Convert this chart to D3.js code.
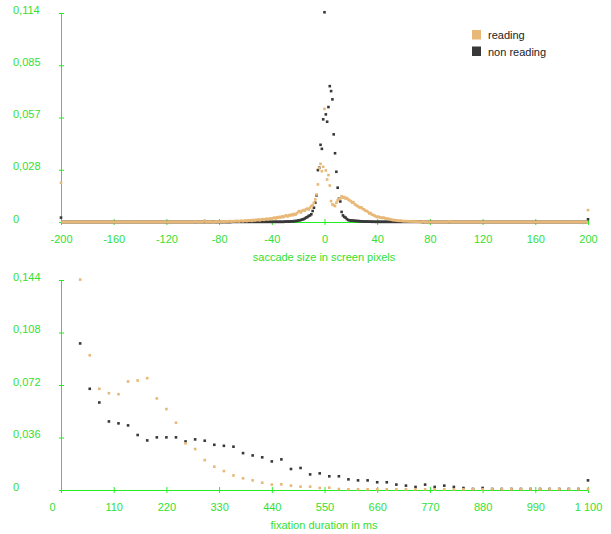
<!DOCTYPE html>
<html>
<head>
<meta charset="utf-8">
<script src="https://cdn.jsdelivr.net/npm/d3@7"></script>
<style>
  body { margin: 0; background: #fff; }
  text { font-family: "Liberation Sans", Arial, sans-serif; }
</style>
</head>
<body>
<script>
// saccade size distribution, one value per pixel from -200 to 200
let saccadeSizes = d3.range(-200, 201);
let saccadeReading = [
  0.0214,0,0,0,0,0,0,0,0,0,0,0,0,0,0,0,0,0,0,0,
  0,0,0,0,0,0,0,0,0,0,0,0,0,0,0,0,0,0,0,0,
  0,0,0,0,0,0,0,0,0,0,0,0,0,0,0,0,0,0,0,0,
  0,0,0,0,0,0,0,0,0,0,0,0,0,0,0,0,0,0,0,0,
  0,0,0,0,0,0,0,0,0,0,0,0,0,0,0,0,0,0,0,0,
  0,0,0.0003,0,0,0,0,0,0,0.0008,0,0,0,0.0002,0,0,0,0,0.0003,0,
  0.0002,0,0.0003,0.0002,0,0.0004,0.0002,0.0003,0.0005,0.0002,0.0004,0.0003,0.0005,0.0004,0.0006,0.0003,0.0005,0.0007,0.0004,0.0006,
  0.0008,0.0005,0.0009,0.0007,0.001,0.0006,0.0011,0.0008,0.0012,0.001,0.0014,0.0009,0.0013,0.0016,0.0012,0.0015,0.0018,0.0014,0.0017,0.002,
  0.0016,0.0021,0.0024,0.0019,0.0026,0.0023,0.0028,0.0025,0.0031,0.0027,0.0033,0.0036,0.003,0.0038,0.0035,0.0041,0.0037,0.0044,0.004,0.0047,
  0.0055,0.006,0.0052,0.006,0.0065,0.0062,0.007,0.0073,0.0068,0.0078,0.0087,0.0092,0.0105,0.0123,0.015,0.0205,0.0294,0.0317,0.0277,0.0301,
  0.0617,0.0281,0.0232,0.0256,0.0199,0.0114,0.0096,0.0092,0.0087,0.0105,0.0118,0.0124,0.0129,0.0141,0.0133,0.0136,0.0128,0.0131,0.0123,0.0118,
  0.0114,0.0105,0.0108,0.0096,0.0092,0.0087,0.0082,0.0078,0.008,0.0071,0.0069,0.0062,0.006,0.0055,0.0046,0.0049,0.004,0.0038,0.0035,0.003,
  0.0027,0.0029,0.0025,0.0024,0.0022,0.0024,0.002,0.0019,0.0017,0.0016,0.0015,0.0012,0.001,0.0011,0.0009,0.0008,0.0007,0.0006,0.0007,0.0005,
  0.0005,0.0004,0.0005,0.0004,0.0003,0.0004,0.0003,0.0002,0.0003,0.0002,0.0002,0,0.0002,0,0,0.0003,0,0,0,0,
  0,0,0,0,0,0,0,0,0,0,0,0,0,0,0,0.0004,0,0,0,0,
  0,0,0,0,0,0,0,0,0,0,0,0,0,0,0,0,0,0,0,0,
  0,0,0,0,0,0,0,0,0,0,0,0,0,0,0,0,0,0,0,0,
  0,0,0,0,0,0,0,0,0,0,0,0,0,0,0,0,0,0,0,0,
  0,0,0,0,0,0,0,0,0,0,0,0,0,0,0,0,0,0,0,0,
  0,0,0,0,0,0,0,0,0,0,0,0,0,0,0,0,0,0,0,0,
  0.0065
];
let saccadeNonReading = [
  0.0024,0,0,0,0,0,0,0,0,0,0,0,0,0,0,0,0,0,0,0,
  0,0,0,0,0,0,0,0,0,0,0,0,0,0,0,0,0,0,0,0,
  0,0,0,0,0,0,0,0,0,0,0,0,0,0,0,0,0,0,0,0,
  0,0,0,0,0,0,0,0,0,0,0,0,0,0,0,0,0,0,0,0,
  0,0,0,0,0,0,0,0,0,0,0,0,0,0,0,0,0,0,0,0,
  0,0,0,0,0,0,0,0,0,0,0,0,0,0,0,0,0,0,0,0,
  0,0,0,0,0,0,0,0,0,0,0.0001,0.0001,0.0001,0.0001,0.0001,0.0001,0.0001,0.0001,0.0001,0.0001,
  0.0001,0.0001,0.0001,0.0001,0.0001,0.0001,0.0001,0.0001,0.0001,0.0001,0.0001,0.0001,0.0001,0.0001,0.0001,0.0001,0.0001,0.0001,0.0001,0.0001,
  0.0001,0.0001,0.0001,0.0001,0.0001,0.0001,0.0001,0.0001,0.0001,0.0001,0.0002,0.0002,0.0003,0.0002,0.0003,0.0004,0.0003,0.0005,0.0005,0.0006,
  0.0008,0.0009,0.0011,0.0013,0.0015,0.0019,0.0024,0.0027,0.0033,0.0036,0.0042,0.006,0.0078,0.0105,0.0145,0.0283,0.0296,0.0421,0.0399,0.056,
  0.1144,0.0587,0.0547,0.0627,0.0741,0.0714,0.0669,0.0478,0.0375,0.0274,0.0187,0.0127,0.0112,0.0055,0.0036,0.0028,0.0024,0.0016,0.0011,0.0009,
  0.0008,0.0008,0.0007,0.0006,0.0006,0.0005,0.0005,0.0004,0.0004,0.0003,0.0003,0.0002,0.0003,0.0002,0.0002,0.0002,0.0001,0.0002,0.0001,0.0001,
  0.0001,0.0001,0.0001,0.0001,0.0001,0.0001,0.0001,0.0001,0.0001,0.0001,0.0001,0.0001,0.0001,0.0001,0.0001,0.0001,0.0001,0.0001,0.0001,0.0001,
  0.0001,0.0001,0.0001,0.0001,0.0001,0.0001,0.0001,0.0001,0.0001,0.0001,0.0001,0.0001,0.0001,0.0001,0,0,0,0,0,0,
  0,0,0,0,0,0,0,0,0,0,0,0,0,0,0,0,0,0,0,0,
  0,0,0,0,0,0,0,0,0,0,0,0,0,0,0,0,0,0,0,0,
  0,0,0,0,0,0,0,0,0,0,0,0,0,0,0,0,0,0,0,0,
  0,0,0,0,0,0,0,0,0,0,0,0,0,0,0,0,0,0,0,0,
  0,0,0,0,0,0,0,0,0,0,0,0,0,0,0,0,0,0,0,0,
  0,0,0,0,0,0,0,0,0,0,0,0,0,0,0,0,0,0,0,0,
  0.0015
];

// fixation duration distribution, 20 ms bins from 40 to 1100
let durations = d3.range(40, 1101, 20);
let fixationReading = [
  0.1443,0.0924,0.0694,0.0664,0.0657,0.0744,0.0751,0.0767,0.0628,0.0555,
  0.0461,0.032,0.0281,0.0205,0.016,0.013,0.01,0.008,0.0066,0.005,
  0.0037,0.0039,0.003,0.0023,0.0023,0.0014,0.0016,0.0007,0.0005,0.0005,
  0.0005,0.0005,0.0005,0.0005,0.0005,0.0005,0.0005,0.0005,0.0005,0.0005,
  0.0005,0.0005,0.0005,0.0005,0.0005,0.0005,0.0005,0.0005,0.0005,0.0005,
  0.0005,0.0005,0.0005,0.0007
];
let fixationNonReading = [
  0.1005,0.0694,0.06,0.047,0.0457,0.0443,0.0377,0.034,0.0361,0.0361,
  0.0361,0.0333,0.0347,0.0338,0.031,0.0303,0.0297,0.0253,0.0237,0.0224,
  0.0196,0.021,0.0144,0.0151,0.0107,0.0114,0.0094,0.0094,0.0073,0.0066,
  0.0066,0.0053,0.0053,0.0037,0.003,0.0021,0.0037,0.0021,0.003,0.0021,
  0.0014,0.0007,0.0014,0.0007,0.0007,0.0007,0.0007,0.0007,0.0007,0.0007,
  0.0007,0.0007,0.0007,0.0066
];

let topXTicks = [-200, -160, -120, -80, -40, 0, 40, 80, 120, 160, 200];
let topYTicks = [0, 0.0285, 0.057, 0.0855, 0.114];
let topYLabels = ["0", "0,028", "0,057", "0,085", "0,114"];
let botXTicks = [0, 110, 220, 330, 440, 550, 660, 770, 880, 990, 1100];
let botXLabels = ["0", "110", "220", "330", "440", "550", "660", "770", "880", "990", "1 100"];
let botYTicks = [0, 0.036, 0.072, 0.108, 0.144];
let botYLabels = ["0", "0,036", "0,072", "0,108", "0,144"];
let seriesNames = ["reading", "non reading"];

let w = 611, h = 534;
let orange = "#e8b878", dark = "#383838", green = "#22ee22", labelGreen = "#33e033";

let svg = d3.select("body").append("svg").attr("width", w).attr("height", h);
svg.append("rect").attr("width", w).attr("height", h).attr("fill", "#fff");

function panel(xDomain, yDomain, top, bottom, xTicks, xLabels, yTicks, yLabels, title, xs, series, firstLabelShift) {
  let x = d3.scaleLinear().domain(xDomain).range([61, 588]);
  let y = d3.scaleLinear().domain(yDomain).range([bottom, top]);
  let g = svg.append("g");

  let yAxis = d3.axisLeft(y).tickValues(yTicks).tickFormat((d, i) => yLabels[i]).tickSizeOuter(0);
  g.append("g").attr("transform", "translate(61,0)").call(yAxis).call(a => {
    a.select(".domain").attr("stroke", green);
    a.selectAll(".tick line").attr("stroke", green).attr("x1", -2).attr("x2", 3);
    a.selectAll(".tick text").attr("x", 13 - 61).attr("dy", 0).attr("y", 0)
      .attr("text-anchor", "start").attr("fill", labelGreen).attr("font-size", 11)
      .attr("font-family", "Liberation Sans, Arial, sans-serif");
  });

  let xAxis = d3.axisBottom(x).tickValues(xTicks).tickFormat((d, i) => xLabels[i]).tickSizeOuter(0);
  g.append("g").attr("transform", `translate(0,${bottom})`).call(xAxis).call(a => {
    a.select(".domain").attr("stroke", green);
    a.selectAll(".tick line").attr("stroke", green).attr("y1", -3).attr("y2", 3);
    a.selectAll(".tick text").attr("y", 21).attr("dy", 0).attr("fill", labelGreen)
      .attr("font-size", 11).attr("font-family", "Liberation Sans, Arial, sans-serif")
      .attr("dx", (d, i) => i === 0 ? firstLabelShift : 0);
  });

  g.append("text").text(title).attr("x", 324).attr("y", bottom + 39)
    .attr("text-anchor", "middle").attr("fill", labelGreen).attr("font-size", 11);

  // non reading first, reading on top
  [[series[1], dark], [series[0], orange]].forEach(([vals, col]) => {
    g.append("g").selectAll("rect").data(vals).enter().append("rect")
      .attr("x", (d, i) => x(xs[i]) - 1.3)
      .attr("y", d => y(d) - 1.3)
      .attr("width", 2.6).attr("height", 2.6)
      .attr("fill", col);
  });
}

panel([-200, 200], [0, 0.114], 13, 222, topXTicks, topXTicks.map(String), topYTicks, topYLabels,
  "saccade size in screen pixels", saccadeSizes, [saccadeReading, saccadeNonReading], 0);
panel([0, 1100], [0, 0.144], 280, 490, botXTicks, botXLabels, botYTicks, botYLabels,
  "fixation duration in ms", durations, [fixationReading, fixationNonReading], -9);

// legend
let legend = svg.append("g").attr("transform", "translate(472,30)");
seriesNames.forEach((name, i) => {
  legend.append("rect").attr("x", 0).attr("y", i * 16.5).attr("width", 9).attr("height", 9.5)
    .attr("fill", i === 0 ? orange : dark);
  legend.append("text").text(name).attr("x", 16).attr("y", i * 16.5 + 9)
    .attr("font-size", 11).attr("fill", "#222");
});
</script>
</body>
</html>
